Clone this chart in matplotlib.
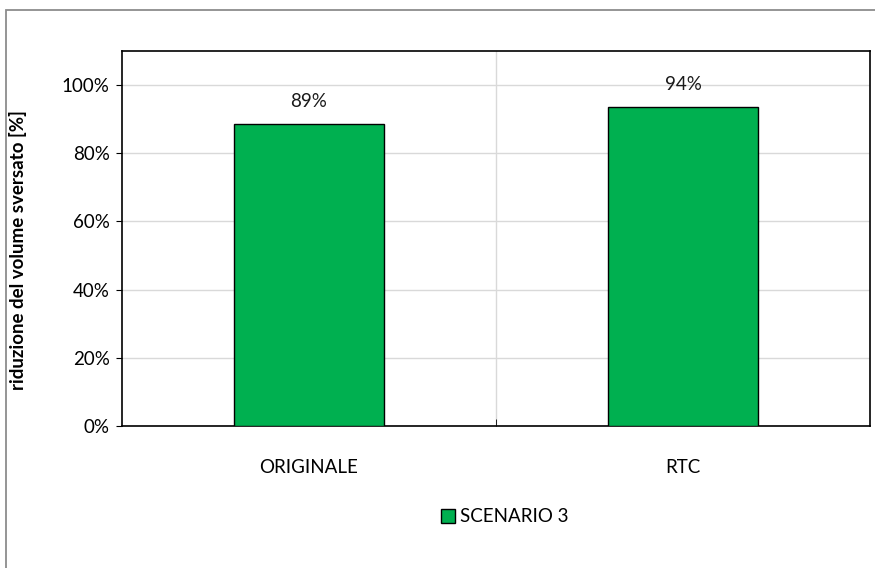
import matplotlib.pyplot as plt
from matplotlib.patches import Rectangle
from matplotlib.ticker import PercentFormatter

plt.rcParams['font.family'] = ['Lato', 'DejaVu Sans']

# dati
categorie = ["ORIGINALE", "RTC"]
riduzione = [0.886, 0.936]
etichette = ["89%", "94%"]
serie = "SCENARIO 3"

verde = "#00B050"

fig = plt.figure(figsize=(8.75, 5.68), dpi=100)
# cornice esterna del grafico (stile Excel), tagliata a destra e in basso
fig.patches.append(Rectangle((6 / 875, -0.1), 1.2, 1.1 - 10 / 568, transform=fig.transFigure,
                             fill=False, edgecolor="#8c8c8c", linewidth=1.3))

ax = fig.add_axes([122 / 875, 1 - 426 / 568, 748 / 875, 375 / 568])

x = list(range(len(categorie)))
barre = ax.bar(x, riduzione, width=0.4, color=verde, edgecolor="black", linewidth=1,
               label=serie, zorder=3)

for xi, v, t in zip(x, riduzione, etichette):
    ax.annotate(t, (xi, v), xytext=(0, 10), textcoords="offset points",
                ha="center", va="bottom", fontsize=13.5, color="#1a1a1a")

ax.set_xlim(-0.5, len(categorie) - 0.5)
ax.set_ylim(0, 1.1)
ax.set_yticks([0, 0.2, 0.4, 0.6, 0.8, 1.0])
ax.yaxis.set_major_formatter(PercentFormatter(1.0, decimals=0))
ax.set_xticks(x)
ax.set_xticklabels(categorie)
ax.set_xticks([0.5], minor=True)
ax.tick_params(axis="x", which="major", length=0, pad=24, labelsize=13.5)
ax.tick_params(axis="x", which="minor", length=5, direction="in")
ax.tick_params(axis="y", length=4, labelsize=13.5, pad=5)

ax.grid(axis="y", color="#d9d9d9", linewidth=1, zorder=0)
ax.grid(axis="x", which="minor", color="#d9d9d9", linewidth=1, zorder=0)

for s in ax.spines.values():
    s.set_color("black")
    s.set_linewidth(1.2)

ax.set_ylabel("riduzione del volume sversato [%]", fontsize=13.5, fontweight="bold")
ax.yaxis.set_label_coords(-0.127, 0.47)

fig.legend(handles=[barre], labels=[serie], loc="center", bbox_to_anchor=(0.577, 1 - 517 / 568),
           frameon=False, fontsize=13.5, handlelength=0.75, handleheight=0.75, handletextpad=0.3)

fig.savefig("out.png", dpi=100, facecolor="white")
